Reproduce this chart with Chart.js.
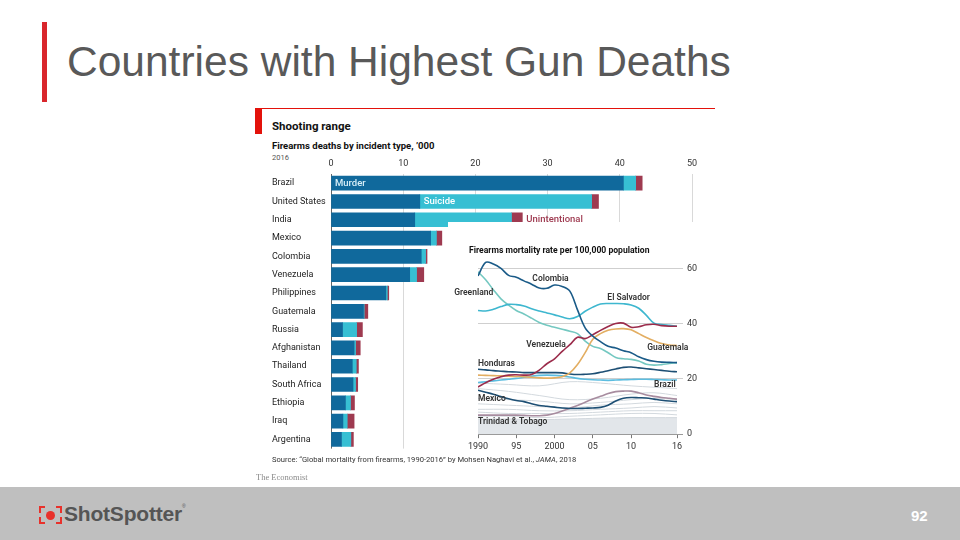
<!DOCTYPE html>
<html>
<head>
<meta charset="utf-8">
<script src="https://cdn.jsdelivr.net/npm/chart.js@4.4.1/dist/chart.umd.min.js"></script>
<style>
  body { margin: 0; background: #fff; }
  #slide { position: relative; width: 960px; height: 540px; overflow: hidden; background: #fff; font-family: Roboto, sans-serif; }
  .abs { position: absolute; white-space: nowrap; }
  #titleBar { left: 42px; top: 22px; width: 5px; height: 80px; background: #d9262c; }
  #title { left: 67px; top: 41px; font: 42.5px "Liberation Sans", Arial, sans-serif; line-height: 42.5px; color: #595959; }
  #ecoLine { left: 255px; top: 108px; width: 460px; height: 1px; background: #e3120b; }
  #ecoTag { left: 255px; top: 108px; width: 7px; height: 26px; background: #e3120b; }
  #head { left: 272px; top: 119px; font-weight: 700; font-size: 11.5px; color: #111; }
  #sub { left: 272px; top: 140px; font-weight: 700; font-size: 9.5px; color: #111; }
  #year { left: 272px; top: 153px; font-size: 7.5px; color: #555; }
  #barBox { left: 272px; top: 150px; width: 440px; height: 307px; }
  #panel { left: 448px; top: 222px; width: 267px; height: 234px; background: #fff; }
  #lineTitle { left: 469px; top: 245px; font-weight: 700; font-size: 8.6px; color: #111; z-index: 3; }
  #lineBox { left: 448px; top: 248px; width: 267px; height: 206px; z-index: 2; }
  #source { left: 272px; top: 455px; font-size: 7.6px; color: #333; }
  #econ { left: 256px; top: 472px; font: 8.5px "Liberation Serif", serif; color: #8a8a8a; }
  #footer { left: 0; top: 487px; width: 960px; height: 53px; background: #bfbfbf; }
  #logoText { left: 64px; top: 502px; font: bold 21px "Liberation Sans", Arial, sans-serif; color: #555; letter-spacing: -0.2px; }
  #logoText sup { font-size: 5px; vertical-align: 13px; font-weight: normal; }
  #dot { left: 46px; top: 511px; width: 9px; height: 9px; border-radius: 50%; background: #e8312b; }
  .br { position: absolute; width: 4px; height: 5px; border: 2px solid #e8312b; }
  #page { left: 911px; top: 507px; font: bold 15px "Liberation Sans", Arial, sans-serif; color: #fff; }
</style>
</head>
<body>
<div id="slide">
  <div id="titleBar" class="abs"></div>
  <div id="title" class="abs">Countries with Highest Gun Deaths</div>

  <div id="ecoLine" class="abs"></div>
  <div id="ecoTag" class="abs"></div>
  <div id="head" class="abs">Shooting range</div>
  <div id="sub" class="abs">Firearms deaths by incident type, ’000</div>
  <div id="year" class="abs">2016</div>
  <div id="barBox" class="abs"><canvas id="barChart"></canvas></div>

  <div id="panel" class="abs"></div>
  <div id="lineTitle" class="abs">Firearms mortality rate per 100,000 population</div>
  <div id="lineBox" class="abs"><canvas id="lineChart"></canvas></div>

  <div id="source" class="abs">Source: “Global mortality from firearms, 1990-2016” by Mohsen Naghavi et al., <i>JAMA</i>, 2018</div>
  <div id="econ" class="abs">The Economist</div>

  <div id="footer" class="abs"></div>
  <div class="br" style="left:39px;top:506px;border-right:none;border-bottom:none"></div>
  <div class="br" style="left:56px;top:506px;border-left:none;border-bottom:none"></div>
  <div class="br" style="left:39px;top:517px;border-right:none;border-top:none"></div>
  <div class="br" style="left:56px;top:517px;border-left:none;border-top:none"></div>
  <div id="dot" class="abs"></div>
  <div id="logoText" class="abs">ShotSpotter<sup>®</sup></div>
  <div id="page" class="abs">92</div>
</div>

<script>
// bar chart data, '000 deaths, 2016
var countries = ["Brazil", "United States", "India", "Mexico", "Colombia", "Venezuela", "Philippines", "Guatemala", "Russia", "Afghanistan", "Thailand", "South Africa", "Ethiopia", "Iraq", "Argentina"]
var murder = [40.5, 12.3, 11.6, 13.8, 12.5, 10.9, 7.6, 4.5, 1.6, 3.2, 2.95, 3.05, 2.0, 1.65, 1.45]
var suicide = [1.7, 23.8, 13.4, 0.8, 0.6, 0.95, 0.2, 0.1, 1.95, 0.2, 0.55, 0.35, 0.7, 0.6, 1.3]
var unintentional = [0.9, 0.95, 1.5, 0.75, 0.2, 1.0, 0.2, 0.5, 0.8, 0.65, 0.3, 0.3, 0.55, 0.95, 0.35]

// line chart data, rate per 100,000
var years = [1990, 1991, 1992, 1993, 1994, 1995, 1996, 1997, 1998, 1999, 2000, 2001, 2002, 2003, 2004, 2005, 2006, 2007, 2008, 2009, 2010, 2011, 2012, 2013, 2014, 2015, 2016]
var yearTicks = [1990, 1995, 2000, 2005, 2010, 2016]
var yearTickLabels = ["1990", "95", "2000", "05", "10", "16"]
var rateTicks = [0, 20, 40, 60]

var colombia = [57.3, 62.2, 61.6, 60, 57.5, 56.8, 55.5, 54.3, 52.9, 52.8, 54, 53.5, 51.8, 45, 38.5, 35.5, 33.5, 31.8, 31.2, 30.2, 29.5, 28, 27, 26.4, 26.1, 26, 25.9]
var greenland = [58.8, 55.9, 52.3, 49, 46.7, 44.8, 43.5, 42, 40.4, 39.4, 38.7, 38, 37.3, 36.4, 33.7, 31.8, 31, 29.5, 27.8, 27.3, 27.1, 26.5, 25.3, 25, 25.2, 25.6, 25.9]
var elSalvador = [44.8, 44.6, 45.2, 46.2, 47, 46.9, 46.4, 45.4, 44.6, 43.9, 43.2, 42.4, 41.8, 42.6, 44.5, 46, 47.1, 47.3, 47.3, 47.2, 46.8, 45.6, 43, 40.2, 39.7, 39.4, 39.1]
var venezuela = [17.1, 18.6, 19.9, 20.8, 21.4, 21.5, 21.4, 21.6, 23.2, 25.5, 27.3, 30, 32.4, 35.1, 34.6, 36, 37.6, 39, 40.1, 40.2, 38.7, 38.9, 39.6, 39.8, 39.3, 39.1, 39.1]
var guatemala = [21.4, 21.3, 21.2, 21.1, 21, 20.9, 20.8, 20.6, 20.4, 20.3, 20.4, 20.8, 22.2, 25.2, 29.5, 34.4, 36.4, 37.6, 38.1, 38.2, 37.8, 36.4, 35, 33.8, 32.8, 32.3, 32.1]
var honduras = [23.5, 23.3, 23, 22.8, 22.6, 22.5, 22.3, 22.3, 22.3, 22.3, 22.3, 22.2, 21.8, 21.6, 21.7, 21.9, 22.4, 23, 23.6, 24.2, 24.3, 24, 23.7, 23.4, 23.1, 22.8, 22.6]
var brazil = [18.7, 19, 19.3, 19.6, 19.9, 20.2, 20.6, 21, 21.3, 21.4, 21.3, 21.1, 20.7, 20.2, 19.9, 19.7, 19.6, 19.5, 19.6, 19.7, 19.8, 19.9, 19.9, 19.8, 19.7, 19.6, 19.6]
var mexico = [15.9, 15.2, 14.5, 13.6, 12.8, 12.2, 11.8, 11, 10.4, 10.1, 9.8, 9.5, 9.3, 9.3, 9.4, 9.5, 9.7, 10.5, 12, 13, 13.3, 13.2, 13.1, 12.7, 12.3, 12, 11.8]
var trinidad = [6.9, 6.9, 6.9, 6.9, 6.9, 6.9, 6.8, 6.7, 6.7, 6.9, 7.5, 8.4, 9.4, 10.4, 11.6, 12.7, 13.7, 14.7, 15.4, 15.6, 15.6, 15, 14.2, 13.7, 13.3, 13, 12.7]

// the other countries, drawn in grey
var grayYears = [1990, 1994, 1998, 2002, 2006, 2010, 2013, 2016]
var gray1 = [16.5, 15.5, 14, 12.5, 13, 14.5, 15, 14]
var gray2 = [13, 12.5, 12, 11, 11.5, 12.5, 13, 12.5]
var gray3 = [11, 10.5, 10, 9.5, 10.5, 11, 11.5, 11]
var gray4 = [9, 9, 8.5, 8.5, 9, 9.5, 10, 9.5]
var gray5 = [8, 7.5, 7.5, 7.5, 8, 8.5, 8.5, 8.5]
var gray6 = [6.5, 6.5, 6, 6.5, 7, 7.5, 7.5, 7]
var gray7 = [18.5, 18, 17.5, 19, 18.5, 17.5, 17, 16.5]
var grayBand = [5.5, 5.5, 5.3, 5.5, 5.8, 6, 6, 6]

Chart.defaults.font.family = "Roboto, sans-serif"
Chart.defaults.animation = false

var barNotes = {
    id: "barNotes",
    afterDatasetsDraw(chart) {
        var ctx = chart.ctx, xs = chart.scales.x, ys = chart.scales.y
        ctx.save()
        ctx.textBaseline = "middle"
        ctx.textAlign = "left"
        ctx.font = "500 9.5px Roboto"
        ctx.fillStyle = "#d7eef7"
        ctx.fillText("Murder", xs.getPixelForValue(0) + 4, ys.getPixelForValue(0))
        ctx.fillStyle = "#ffffff"
        ctx.fillText("Suicide", xs.getPixelForValue(murder[1]) + 4, ys.getPixelForValue(1))
        ctx.fillStyle = "#9e3a50"
        ctx.fillText("Unintentional", xs.getPixelForValue(murder[2] + suicide[2] + unintentional[2]) + 4, ys.getPixelForValue(2))
        ctx.restore()
    }
}

new Chart(document.getElementById("barChart"), {
    type: "bar",
    data: {
        labels: countries,
        datasets: [
            { label: "Murder", data: murder, backgroundColor: "#10699c" },
            { label: "Suicide", data: suicide, backgroundColor: "#37bfd3" },
            { label: "Unintentional", data: unintentional, backgroundColor: "#9e3a50" }
        ]
    },
    options: {
        indexAxis: "y",
        responsive: true,
        maintainAspectRatio: false,
        layout: { padding: { right: 20 } },
        datasets: { bar: { barThickness: 14 } },
        plugins: { legend: { display: false }, tooltip: { enabled: false } },
        scales: {
            x: {
                position: "top",
                stacked: true,
                min: 0,
                max: 50,
                ticks: { stepSize: 10, color: "#333", font: { size: 9 }, padding: 5 },
                grid: {
                    drawTicks: false,
                    color: (c) => c.tick && c.tick.value === 0 ? "#666" : "#d9d9d9"
                },
                border: { display: false },
                afterFit: (s) => { s.height = 24 }
            },
            y: {
                stacked: true,
                ticks: { crossAlign: "far", color: "#222", font: { size: 9 } },
                grid: { display: false },
                border: { display: false },
                afterFit: (s) => { s.width = 59 }
            }
        }
    },
    plugins: [barNotes]
})

var lineNotes = [
    { text: "Colombia", x: 1997.1, y: 56.3 },
    { text: "Greenland", x: 1986.9, y: 51.3 },
    { text: "El Salvador", x: 2006.9, y: 49.5 },
    { text: "Venezuela", x: 1996.3, y: 32.2 },
    { text: "Guatemala", x: 2012.1, y: 31.1 },
    { text: "Honduras", x: 1990, y: 25.4 },
    { text: "Brazil", x: 2013, y: 17.8 },
    { text: "Mexico", x: 1990, y: 12.8 },
    { text: "Trinidad & Tobago", x: 1990, y: 4.5 }
]

var lineLabels = {
    id: "lineLabels",
    afterDatasetsDraw(chart) {
        var ctx = chart.ctx, xs = chart.scales.x, ys = chart.scales.y
        ctx.save()
        ctx.font = "600 8.5px Roboto"
        ctx.fillStyle = "#333"
        ctx.textBaseline = "middle"
        ctx.textAlign = "left"
        lineNotes.forEach(function (n) {
            ctx.fillText(n.text, xs.getPixelForValue(n.x), ys.getPixelForValue(n.y))
        })
        ctx.restore()
    }
}

function pts(xv, yv) {
    return xv.map((x, i) => ({ x: x, y: yv[i] }))
}

function hiLine(name, values, color) {
    return { label: name, data: pts(years, values), borderColor: color, borderWidth: 1.6, pointRadius: 0, tension: 0.35 }
}

function grayLine(values) {
    return { data: pts(grayYears, values), borderColor: "#d3d9de", borderWidth: 1, pointRadius: 0, tension: 0.35 }
}

new Chart(document.getElementById("lineChart"), {
    type: "line",
    data: {
        datasets: [
            hiLine("Colombia", colombia, "#1a5b88"),
            hiLine("Venezuela", venezuela, "#9b2c4b"),
            hiLine("Guatemala", guatemala, "#e3ae62"),
            hiLine("El Salvador", elSalvador, "#3eb7cf"),
            hiLine("Greenland", greenland, "#74c8c1"),
            hiLine("Honduras", honduras, "#1d4f74"),
            hiLine("Brazil", brazil, "#5cbde0"),
            hiLine("Mexico", mexico, "#1d4f74"),
            hiLine("Trinidad & Tobago", trinidad, "#a78c9f"),
            grayLine(gray1), grayLine(gray2), grayLine(gray3), grayLine(gray4),
            grayLine(gray5), grayLine(gray6), grayLine(gray7),
            { data: pts(grayYears, grayBand), borderColor: "#d3d9de", borderWidth: 1, pointRadius: 0, tension: 0.35, fill: "origin", backgroundColor: "#e2e6ea" }
        ]
    },
    options: {
        responsive: true,
        maintainAspectRatio: false,
        layout: { padding: { left: 30, top: 3, right: 0, bottom: 0 } },
        plugins: { legend: { display: false }, tooltip: { enabled: false } },
        scales: {
            x: {
                type: "linear",
                min: 1990,
                max: 2016,
                afterBuildTicks: (s) => { s.ticks = yearTicks.map(v => ({ value: v })) },
                ticks: {
                    color: "#333",
                    font: { size: 9 },
                    padding: 3,
                    maxRotation: 0,
                    callback: (v) => yearTickLabels[yearTicks.indexOf(v)]
                },
                grid: { drawOnChartArea: false, drawTicks: true, tickLength: 4, color: "#777" },
                border: { display: false },
                afterFit: (s) => { s.height = 19.8 }
            },
            y: {
                position: "right",
                min: 0,
                max: 64,
                afterBuildTicks: (s) => { s.ticks = rateTicks.map(v => ({ value: v })) },
                ticks: { color: "#333", font: { size: 9 }, padding: 4 },
                grid: {
                    drawTicks: true,
                    tickLength: 6,
                    color: (c) => c.tick && c.tick.value === 0 ? "#999" : "#cfcfcf"
                },
                border: { display: false },
                afterFit: (s) => { s.width = 38 }
            }
        }
    },
    plugins: [lineLabels]
})
</script>
</body>
</html>
